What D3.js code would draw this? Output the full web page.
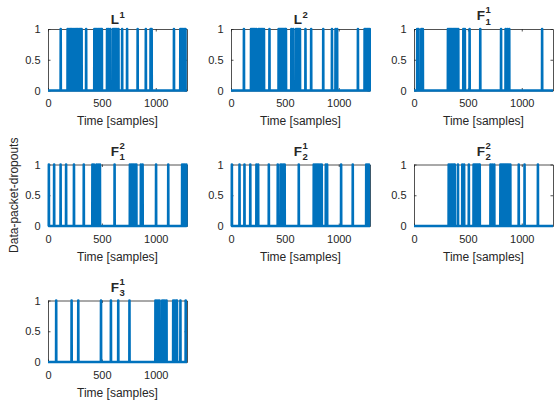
<!DOCTYPE html>
<html>
<head>
<meta charset="utf-8">
<script src="https://cdn.jsdelivr.net/npm/d3@7"></script>
<style>
  html, body { margin: 0; padding: 0; background: #fff; }
  svg { display: block; }
  text { font-family: "Liberation Sans", Arial, Helvetica, sans-serif; fill: #262626; }
</style>
</head>
<body>
<svg id="fig" width="554" height="403"></svg>
<script>
// Sample indices at which a data packet was dropped (value 1), per agent
const dropL1  = [118, 182, 195, 208, 220, 233, 250, 262, 275, 288, 300, 312, 354,
                 430, 442, 454, 466, 478, 490, 500, 548, 562, 578, 604, 616, 628, 640, 654,
                 688, 734, 832, 908, 952, 962, 1169, 1228, 1240, 1252, 1264, 1276];
const dropL2  = [120, 186, 198, 210, 222, 235, 256, 268, 280, 292, 306, 357,
                 442, 452, 462, 472, 482, 492, 502, 510, 560, 578, 604, 616, 628, 640,
                 691, 744, 856, 937, 970, 985, 1178, 1240, 1252, 1264, 1276, 1288];
const dropF11 = [30, 42, 68, 82, 315, 327, 339, 351, 363, 375, 387, 399, 411,
                 458, 472, 516, 615, 808, 850, 866, 884, 1189];
const dropF12 = [8, 57, 117, 168, 241, 332, 412, 426, 450, 465, 482, 618,
                 760, 772, 784, 796, 808, 820, 862, 878, 1003, 1116, 1245, 1258, 1270, 1284];
const dropF21 = [8, 79, 125, 179, 236, 252, 351, 434, 460, 472, 485, 498, 629,
                 768, 780, 792, 804, 816, 828, 842, 880, 892, 1022, 1130, 1255, 1268, 1280];
const dropF22 = [322, 334, 346, 358, 370, 378, 408, 448, 465, 509,
                 553, 563, 573, 583, 593, 603, 610, 710, 725, 745,
                 802, 812, 822, 832, 842, 852, 862, 872, 882, 894, 972, 1026, 1150];
const dropF31 = [76, 219, 281, 492, 584, 652, 756, 997, 1010, 1022, 1035,
                 1060, 1072, 1085, 1100, 1162, 1175, 1188, 1197, 1229, 1278];

const titleBase = ["L", "L", "F", "F", "F", "F", "F"];
const titleSup  = ["1", "2", "1", "2", "1", "2", "1"];
const titleSub  = ["",  "",  "1", "1", "2", "2", "3"];
const series    = [dropL1, dropL2, dropF11, dropF12, dropF21, dropF22, dropF31];

const xTicks = [0, 500, 1000];
const yTicks = [0, 0.5, 1];
const xLimit = [0, 1290];
const yLimit = [0, 1];

// Layout of the 3x3 grid
const colLeft = [48, 231, 414];
const rowTop  = [29, 164.5, 300.5];
const axW = 139, axH = 61.5;
const lineColor = "#0072BD";
const axisColor = "#262626";

const svg = d3.select("#fig");

series.forEach((drops, i) => {
  const left = colLeft[i % 3], top = rowTop[Math.floor(i / 3)];
  const x = d3.scaleLinear().domain(xLimit).range([left, left + axW]);
  const y = d3.scaleLinear().domain(yLimit).range([top + axH, top]);
  const g = svg.append("g");

  // Inward ticks on all four sides (boxed axes)
  const tickLen = 2.5;
  g.append("g").attr("transform", `translate(0,${top + axH})`)
    .call(d3.axisBottom(x).tickValues(xTicks).tickFormat(d3.format("d"))
      .tickSizeInner(-tickLen).tickSizeOuter(0).tickPadding(9));
  g.append("g").attr("transform", `translate(0,${top})`)
    .call(d3.axisTop(x).tickValues(xTicks).tickFormat("")
      .tickSizeInner(-tickLen).tickSizeOuter(0));
  g.append("g").attr("transform", `translate(${left},0)`)
    .call(d3.axisLeft(y).tickValues(yTicks).tickFormat(d => d)
      .tickSizeInner(-tickLen).tickSizeOuter(0).tickPadding(7.5));
  g.append("g").attr("transform", `translate(${left + axW},0)`)
    .call(d3.axisRight(y).tickValues(yTicks).tickFormat("")
      .tickSizeInner(-tickLen).tickSizeOuter(0));

  g.selectAll(".domain").attr("stroke", axisColor).attr("stroke-width", 0.8);
  g.selectAll(".tick line").attr("stroke", axisColor).attr("stroke-width", 0.8);
  g.selectAll(".tick text").attr("font-size", 11).attr("fill", axisColor)
    .style("font-family", '"Liberation Sans", Arial, Helvetica, sans-serif');

  // Dropout signal: zero baseline with a unit spike at each dropped sample
  const pts = [[xLimit[0], 0]];
  drops.forEach(k => { pts.push([k - 1, 0], [k, 1], [k + 1, 0]); });
  pts.push([xLimit[1], 0]);

  const clipId = "clip" + i;
  svg.append("clipPath").attr("id", clipId).append("rect")
    .attr("x", left - 1).attr("y", top - 3).attr("width", axW + 2).attr("height", axH + 6);

  g.append("path")
    .attr("clip-path", `url(#${clipId})`)
    .attr("d", d3.line().x(d => x(d[0])).y(d => y(d[1]))(pts))
    .attr("fill", "none").attr("stroke", lineColor)
    .attr("stroke-width", 2.6).attr("stroke-linejoin", "round");

  // x-axis label
  g.append("text").attr("x", left + axW / 2).attr("y", top + axH + 34.5)
    .attr("text-anchor", "middle").attr("font-size", 12).text("Time [samples]");

  // Title with superscript / stacked subscript
  const cx = left + axW / 2;
  const hasSub = titleSub[i] !== "";
  const base = hasSub ? top - 9 : top - 5.5;
  const t = g.append("text").attr("y", base).attr("font-size", 13.5)
    .attr("font-weight", "bold").text(titleBase[i]);
  const mainW = t.node().getComputedTextLength();
  const supW = 5.5;
  const x0 = cx - (mainW + supW) / 2;
  t.attr("x", x0);
  g.append("text").attr("x", x0 + mainW + 0.5).attr("y", base - (hasSub ? 7 : 6))
    .attr("font-size", 9.5).attr("font-weight", "bold").text(titleSup[i]);
  if (hasSub) {
    g.append("text").attr("x", x0 + mainW + 0.5).attr("y", base + 4.5)
      .attr("font-size", 9.5).attr("font-weight", "bold").text(titleSub[i]);
  }
});

// Shared y-axis label
svg.append("text")
  .attr("transform", `translate(18,${rowTop[1] + axH / 2}) rotate(-90)`)
  .attr("text-anchor", "middle").attr("font-size", 12).text("Data-packet-dropouts");
</script>
</body>
</html>
